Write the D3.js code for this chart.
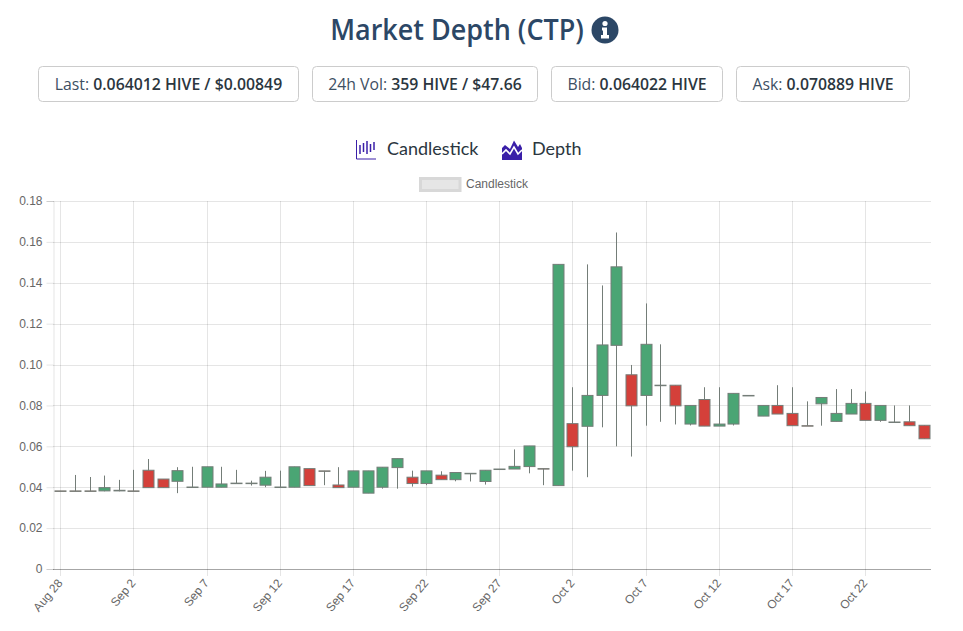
<!DOCTYPE html>
<html><head><meta charset="utf-8">
<script src="https://d3js.org/d3.v7.min.js"></script>
<style>html,body{margin:0;padding:0;background:#fff}svg{display:block}</style>
</head><body><svg id="c" width="963" height="631"></svg>
<script>
const dayLabels = ["Aug 28","Aug 29","Aug 30","Aug 31","Sep 1","Sep 2","Sep 3","Sep 4","Sep 5","Sep 6","Sep 7","Sep 8","Sep 9","Sep 10","Sep 11","Sep 12","Sep 13","Sep 14","Sep 15","Sep 16","Sep 17","Sep 18","Sep 19","Sep 20","Sep 21","Sep 22","Sep 23","Sep 24","Sep 25","Sep 26","Sep 27","Sep 28","Sep 29","Sep 30","Oct 1","Oct 2","Oct 3","Oct 4","Oct 5","Oct 6","Oct 7","Oct 8","Oct 9","Oct 10","Oct 11","Oct 12","Oct 13","Oct 14","Oct 15","Oct 16","Oct 17","Oct 18","Oct 19","Oct 20","Oct 21","Oct 22","Oct 23","Oct 24","Oct 25","Oct 26"];
const opens  = [.0382,.0382,.0382,.0382,.0382,.0382,.0483,.044,.0429,.04,.04,.04,.0418,.0418,.041,.04,.04,.0491,.048,.0411,.04,.0371,.04,.0496,.0449,.0418,.0459,.0437,.0468,.0428,.0487,.0489,.0501,.0491,.0408,.0711,.0698,.0849,.1094,.095,.0849,.0899,.0899,.0709,.0829,.0699,.0709,.0849,.0748,.08,.0761,.0701,.0808,.0722,.0758,.081,.0727,.0719,.072,.0703];
const closes = [.0381,.0381,.0381,.0398,.0385,.0381,.0398,.0398,.0481,.0401,.05,.0416,.042,.042,.0449,.0401,.05,.0408,.0479,.0398,.048,.048,.0498,.054,.0418,.048,.0437,.0472,.0467,.0483,.0489,.0502,.0602,.049,.149,.0598,.0849,.1096,.1478,.0798,.1099,.0898,.0798,.08,.0699,.0709,.0859,.0848,.08,.0758,.0701,.07,.0839,.0761,.081,.0727,.08,.0718,.0701,.0637];
const highs  = [.0382,.046,.045,.0457,.0436,.0485,.0538,.044,.0498,.05,.05,.05,.0485,.0432,.048,.0481,.05,.0491,.048,.0498,.048,.048,.0498,.054,.0481,.048,.0478,.0472,.0468,.0483,.0489,.0585,.0602,.0491,.149,.0889,.149,.1387,.1646,.0998,.1299,.1099,.0899,.08,.0889,.0889,.0859,.0849,.08,.0899,.0889,.082,.0839,.088,.088,.0868,.08,.08,.08,.0703];
const lows   = [.0381,.0381,.0381,.038,.038,.0381,.0398,.0398,.0371,.04,.04,.04,.0418,.0408,.04,.04,.04,.0408,.041,.0398,.04,.0371,.0393,.0393,.0403,.041,.0437,.0429,.0428,.0413,.0487,.0489,.0468,.041,.0408,.0481,.0449,.0693,.06,.055,.0701,.072,.0707,.0702,.0699,.0699,.0702,.0849,.0748,.0758,.0701,.07,.0701,.0722,.0758,.0727,.072,.0718,.0701,.0637];
const yTicks = [0,.02,.04,.06,.08,.1,.12,.14,.16,.18];
const stats = [
 {label:"Last: ", value:"0.064012 HIVE / $0.00849", x0:38.5, x1:298.5},
 {label:"24h Vol: ", value:"359 HIVE / $47.66", x0:312.5, x1:537.5},
 {label:"Bid: ", value:"0.064022 HIVE", x0:551.5, x1:722.5},
 {label:"Ask: ", value:"0.070889 HIVE", x0:736.5, x1:909.5}
];
const GREEN="#4aa574", RED="#d4403a", EDGE="#747d78";
const svg=d3.select("#c");
const font='"Open Sans",sans-serif', chartFont='"Liberation Sans",Arial,sans-serif';
const navy="#2c4766";

// title
svg.append("text").attr("transform","translate(457,40) scale(0.93,1)").attr("text-anchor","middle")
  .attr("font-family",font).attr("font-weight",600).attr("font-size",29).attr("fill",navy).text("Market Depth (CTP)");
const info=svg.append("g").attr("transform","translate(605,30)");
info.append("circle").attr("r",13.5).attr("fill",navy);
info.append("circle").attr("cy",-6.5).attr("r",2.6).attr("fill","#fff");
info.append("path").attr("fill","#fff").attr("d","M-3,-2.5H2V5H4V8.5H-4V5H-2V0.5H-3Z");

// stat boxes
const box=svg.selectAll("g.stat").data(stats).join("g").attr("class","stat");
box.append("rect").attr("x",d=>d.x0).attr("y",66.5).attr("width",d=>d.x1-d.x0).attr("height",35).attr("rx",4)
  .attr("fill","#fff").attr("stroke","#ccc");
const st=box.append("text").attr("x",d=>(d.x0+d.x1)/2).attr("y",90).attr("text-anchor","middle")
  .attr("font-family",font).attr("font-size",15.8);
st.append("tspan").attr("fill","#3d4f63").text(d=>d.label);
st.append("tspan").attr("fill","#2b3640").attr("font-weight",600).text(d=>d.value);

// tab row
const purple="#3a1fa8";
const ic=svg.append("g").attr("transform","translate(356,140)");
ic.append("path").attr("d","M0.5,0V19H20").attr("fill","none").attr("stroke",purple).attr("stroke-width",1);
[[4,5,14],[7.5,3,12],[11,1,14],[14.5,4,12],[18,2,10]].forEach(a=>ic.append("line").attr("x1",a[0]).attr("x2",a[0]).attr("y1",a[1]).attr("y2",a[2]).attr("stroke",purple).attr("stroke-width",1.5));
const ic2=svg.append("g").attr("transform","translate(502,140)");
ic2.append("path").attr("fill",purple).attr("d","M0,20V8L3,5L8,9L12,0.5L16,7L18,4L20,8V20Z");
ic2.append("path").attr("fill","none").attr("stroke","#fff").attr("stroke-width",1.6).attr("d","M0,14L4,10L8,14L12,7L16,14L20,10");
svg.append("text").attr("x",387).attr("y",155).attr("font-family",'Lato,sans-serif').attr("font-size",18).attr("fill","#2b3640").text("Candlestick");
svg.append("text").attr("x",532).attr("y",155).attr("font-family",'Lato,sans-serif').attr("font-size",18).attr("fill","#2b3640").text("Depth");

// chart legend
svg.append("rect").attr("x",420.5).attr("y",178.5).attr("width",39.5).attr("height",12).attr("fill","#e6e6e6").attr("stroke","#d8d8d8").attr("stroke-width",3);
svg.append("text").attr("x",466).attr("y",188).attr("font-family",chartFont).attr("font-size",12).attr("fill","#666").text("Candlestick");

// scales
const x=d3.scaleBand().domain(dayLabels).range([53,931]);
const y=d3.scaleLinear().domain([0,.18]).range([569,201]);
const cx=d=>Math.round(x(d)+x.bandwidth()/2)+.5;

// y axis
const yAxis=svg.append("g").attr("transform","translate(53.5,0)").call(d3.axisLeft(y).tickValues(yTicks).tickFormat(d=>d===0?"0":d3.format(".2f")(d)).tickSize(7).tickPadding(4));
yAxis.select(".domain").attr("stroke","rgba(0,0,0,.1)");
yAxis.selectAll("line").attr("stroke","rgba(0,0,0,.1)");
yAxis.selectAll("text").attr("font-family",chartFont).attr("font-size",12).attr("fill","#666");
svg.append("g").selectAll("line").data(yTicks).join("line").attr("x1",53).attr("x2",931)
  .attr("y1",d=>Math.round(y(d))+.5).attr("y2",d=>Math.round(y(d))+.5).attr("stroke",d=>d===0?"rgba(0,0,0,.35)":"rgba(0,0,0,.1)");

// x axis
const xTicks=dayLabels.filter((d,i)=>i%5===0);
const xAxis=svg.append("g").attr("transform","translate(0,569.5)").call(d3.axisBottom(x).tickValues(xTicks).tickSize(0).tickPadding(0));
xAxis.select(".domain").remove();
xAxis.selectAll("line").remove();
xAxis.selectAll("text").attr("font-family",chartFont).attr("font-size",12).attr("fill","#666")
  .attr("text-anchor","end").attr("dy",0).attr("transform","translate(-4,8) rotate(-50)").attr("y",9);
svg.append("g").selectAll("line").data(xTicks).join("line").attr("x1",cx).attr("x2",cx).attr("y1",201).attr("y2",576).attr("stroke","rgba(0,0,0,.1)");

// candles
const data=dayLabels.map((d,i)=>({d,o:opens[i],c:closes[i],h:highs[i],l:lows[i]}));
const g=svg.append("g").selectAll("g").data(data).join("g");
g.append("line").attr("x1",d=>cx(d.d)).attr("x2",d=>cx(d.d)).attr("y1",d=>y(d.h)).attr("y2",d=>y(d.l)).attr("stroke",EDGE).attr("stroke-width",1);
g.append("rect").attr("x",d=>cx(d.d)-5.5).attr("width",11)
  .attr("y",d=>y(Math.max(d.o,d.c))).attr("height",d=>Math.max(.5,Math.abs(y(d.o)-y(d.c))))
  .attr("fill",d=>d.c>=d.o?GREEN:RED).attr("stroke",EDGE).attr("stroke-width",1);
</script></body></html>
